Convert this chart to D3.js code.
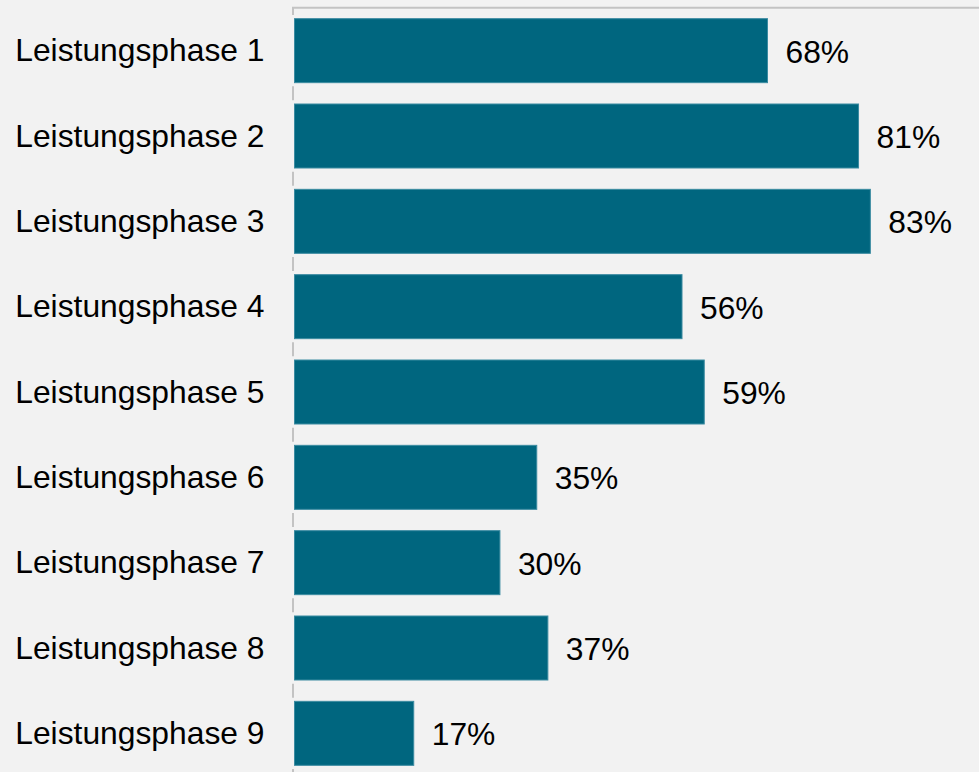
<!DOCTYPE html>
<html>
<head>
<meta charset="utf-8">
<script src="https://cdn.jsdelivr.net/npm/d3@7"></script>
<style>
  html, body { margin: 0; padding: 0; background: #f2f2f2; }
  svg { display: block; }
  text { font-family: "Liberation Sans", Arial, Helvetica, sans-serif; fill: #000; }
</style>
</head>
<body>
<svg id="chart" width="979" height="772"></svg>
<script>
// Data
const categories = ["Leistungsphase 1","Leistungsphase 2","Leistungsphase 3","Leistungsphase 4","Leistungsphase 5","Leistungsphase 6","Leistungsphase 7","Leistungsphase 8","Leistungsphase 9"];
const values = [68.2, 81.3, 83.0, 55.9, 59.1, 35.0, 29.7, 36.6, 17.3];
const valueLabels = ["68%","81%","83%","56%","59%","35%","30%","37%","17%"];

const W = 979, H = 772;
const axisX = 294;
const plotTop = 8;
const plotStep = 768 / 9;

const svg = d3.select("#chart");
svg.append("rect").attr("width", W).attr("height", H).attr("fill", "#f2f2f2");

const y = d3.scaleBand()
  .domain(categories)
  .range([plotTop, plotTop + plotStep * categories.length])
  .paddingInner(0.2383)
  .paddingOuter(0.2383 / 2);

const x = d3.scaleLinear().domain([0, 100]).range([axisX, axisX + 695]);

// top border line
svg.append("line")
  .attr("x1", axisX - 2).attr("x2", W)
  .attr("y1", 7.7).attr("y2", 7.7)
  .attr("stroke", "#c3c3c3").attr("stroke-width", 2);

// tick segments at category boundaries
const bounds = d3.range(categories.length + 1).map(i => plotTop + i * y.step());
svg.append("g").selectAll("line").data(bounds).join("line")
  .attr("x1", axisX - 1).attr("x2", axisX - 1)
  .attr("y1", d => Math.max(d - 7, 7))
  .attr("y2", d => d + 7)
  .attr("stroke", "#c3c3c3").attr("stroke-width", 2);

// bars
svg.append("g").selectAll("rect").data(categories).join("rect")
  .attr("x", x(0) + 0.5)
  .attr("y", d => y(d) + 0.5)
  .attr("width", (d, i) => x(values[i]) - x(0) - 1)
  .attr("height", y.bandwidth() - 1)
  .attr("fill", "#00667f")
  .attr("stroke", "#3b8ba1")
  .attr("stroke-width", 1);

// category labels
svg.append("g").selectAll("text").data(categories).join("text")
  .attr("x", axisX - 29.5)
  .attr("y", d => y(d) + y.bandwidth() / 2 + 10.5)
  .attr("text-anchor", "end")
  .attr("font-size", "31.8px")
  .text(d => d);

// value labels
svg.append("g").selectAll("text").data(categories).join("text")
  .attr("x", (d, i) => x(values[i]) + 17.5)
  .attr("y", d => y(d) + y.bandwidth() / 2 + 12)
  .attr("font-size", "31.8px")
  .text((d, i) => valueLabels[i]);
</script>
</body>
</html>
